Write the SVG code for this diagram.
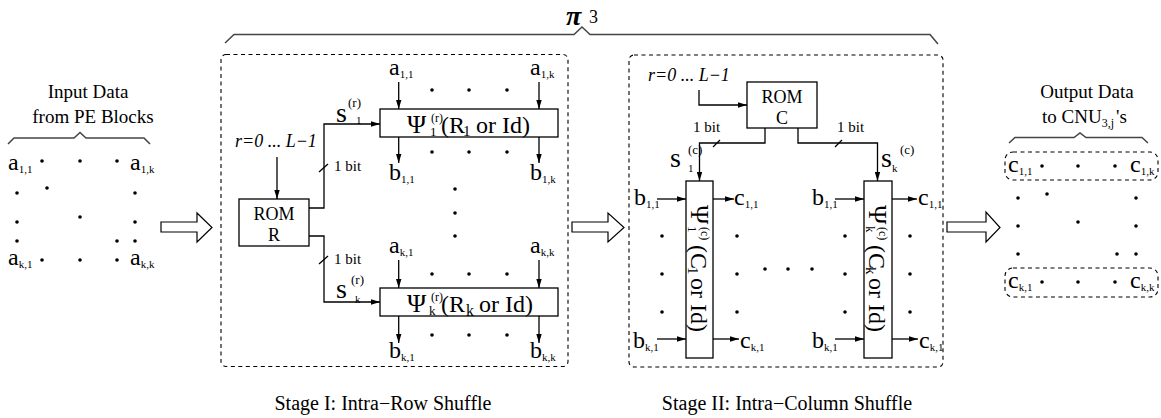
<svg xmlns="http://www.w3.org/2000/svg" width="1161" height="418" viewBox="0 0 1161 418">
<style>
.t{font-family:"Liberation Serif","Times New Roman",serif;fill:#000}
.lbl{font-size:19px}
.stg{font-size:20px}
.m{font-size:24px}
.sb{font-size:11px}
.sup{font-size:13px}
.bit{font-size:15px}
.it{font-style:italic;font-size:18px}
.rom{font-size:18px}
.big{font-size:24px}
.s{font-size:28px}
.ln{stroke:#000;stroke-width:1.3;fill:none}
.br{stroke:#444;stroke-width:1.5;fill:none}
.dash{stroke:#000;stroke-width:1.1;stroke-dasharray:4 3.5;fill:none}
.box{stroke:#000;stroke-width:1.3;fill:#fff}
.fat{stroke:#000;stroke-width:1.2;fill:#fff}
.dot{fill:#000}
</style>
<defs>
<marker id="ah" viewBox="0 0 10 6" refX="10" refY="3" markerWidth="9" markerHeight="6" markerUnits="userSpaceOnUse" orient="auto"><path d="M0,0 L10,3 L0,6 z" fill="#000"/></marker>
</defs>

<!-- pi_3 overall brace -->
<g id="pi3">
<polyline class="br" points="225,43 234,34.5 574,34.5 582,27 590,34.5 930,34.5 938,44"/>
<text class="t" x="566" y="25" font-size="28" font-style="italic" font-weight="bold">π</text>
<text class="t" x="589" y="23" font-size="18">3</text>
</g>

<!-- Input data -->
<g id="input-data">
<text class="t lbl" x="88" y="98" text-anchor="middle">Input Data</text>
<text class="t lbl" x="93" y="123" text-anchor="middle">from PE Blocks</text>
<polyline class="br" points="8,144 14,138 74,138 80,132.5 86,138 144,138 150,144"/>
<text class="t m" x="8" y="170">a<tspan class="sb" dy="3">1,1</tspan></text>
<text class="t m" x="130" y="170">a<tspan class="sb" dy="3">1,k</tspan></text>
<text class="t m" x="8" y="265">a<tspan class="sb" dy="3">k,1</tspan></text>
<text class="t m" x="130" y="265">a<tspan class="sb" dy="3">k,k</tspan></text>
<g class="dot">
<circle cx="42" cy="161" r="1.8"/><circle cx="80" cy="161" r="1.8"/><circle cx="117" cy="161" r="1.8"/>
<circle cx="17" cy="193" r="1.8"/><circle cx="47" cy="188" r="1.8"/><circle cx="135" cy="193" r="1.8"/>
<circle cx="17" cy="222" r="1.8"/><circle cx="80" cy="217" r="1.8"/><circle cx="135" cy="222" r="1.8"/>
<circle cx="17" cy="241" r="1.8"/><circle cx="117" cy="241" r="1.8"/><circle cx="135" cy="241" r="1.8"/>
<circle cx="42" cy="260" r="1.8"/><circle cx="80" cy="260" r="1.8"/><circle cx="117" cy="260" r="1.8"/>
</g>
</g>

<!-- Stage I -->
<g id="stage1">
<rect class="dash" x="221" y="54.5" width="347" height="312" rx="5"/>
<text class="t stg" x="383" y="410" text-anchor="middle">Stage I: Intra−Row Shuffle</text>
<text class="t it" x="235" y="147">r=0 ... L−1</text>
<text class="t m" x="389" y="75">a<tspan class="sb" dy="3">1,1</tspan></text>
<text class="t m" x="530" y="75">a<tspan class="sb" dy="3">1,k</tspan></text>
<text class="t m" x="389" y="180">b<tspan class="sb" dy="3">1,1</tspan></text>
<text class="t m" x="530" y="180">b<tspan class="sb" dy="3">1,k</tspan></text>
<text class="t m" x="389" y="253">a<tspan class="sb" dy="3">k,1</tspan></text>
<text class="t m" x="530" y="253">a<tspan class="sb" dy="3">k,k</tspan></text>
<text class="t m" x="389" y="358">b<tspan class="sb" dy="3">k,1</tspan></text>
<text class="t m" x="530" y="358">b<tspan class="sb" dy="3">k,k</tspan></text>
<text class="t s" x="336" y="122">s</text>
<text class="t sup" x="348" y="107">(r)</text>
<text class="t sb" x="356" y="124">1</text>
<text class="t s" x="336" y="298">s</text>
<text class="t sup" x="351" y="284">(r)</text>
<text class="t sb" x="355" y="303">k</text>
<text class="t bit" x="334" y="171">1 bit</text>
<text class="t bit" x="334" y="264">1 bit</text>
<g class="dot">
<circle cx="432" cy="90" r="1.8"/><circle cx="469" cy="90" r="1.8"/><circle cx="507" cy="90" r="1.8"/>
<circle cx="432" cy="152" r="1.8"/><circle cx="469" cy="152" r="1.8"/><circle cx="507" cy="152" r="1.8"/>
<circle cx="455" cy="189" r="1.8"/><circle cx="455" cy="213" r="1.8"/><circle cx="455" cy="236" r="1.8"/>
<circle cx="432" cy="274" r="1.8"/><circle cx="469" cy="274" r="1.8"/><circle cx="507" cy="274" r="1.8"/>
<circle cx="432" cy="335" r="1.8"/><circle cx="469" cy="335" r="1.8"/><circle cx="507" cy="335" r="1.8"/>
</g>
</g>

<g id="rom-r">
<rect class="box" x="239" y="199" width="70" height="47"/>
<text class="t rom" x="274" y="220" text-anchor="middle">ROM</text>
<text class="t rom" x="274" y="241" text-anchor="middle">R</text>
</g>

<g id="psi-r1">
<rect class="box" x="380" y="109" width="178" height="28"/>
<text class="t big" y="133"><tspan x="407" font-size="26">Ψ</tspan><tspan x="430" y="136" font-size="13">1</tspan><tspan x="431" y="122" font-size="12">(r)</tspan><tspan x="441" y="133">(R</tspan><tspan x="463" y="136" font-size="15">1</tspan><tspan x="476" y="133">or Id)</tspan></text>
</g>

<g id="psi-rk">
<rect class="box" x="380" y="288" width="178" height="28"/>
<text class="t big" y="312"><tspan x="407" font-size="26">Ψ</tspan><tspan x="429" y="315" font-size="13">k</tspan><tspan x="431" y="301" font-size="12">(r)</tspan><tspan x="441" y="312">(R</tspan><tspan x="466" y="316" font-size="16">k</tspan><tspan x="479" y="312">or Id)</tspan></text>
</g>

<!-- Stage II -->
<g id="stage2">
<rect class="dash" x="629" y="55" width="314" height="312" rx="5"/>
<text class="t stg" x="787" y="410" text-anchor="middle">Stage II: Intra−Column Shuffle</text>
<text class="t it" x="648" y="81">r=0 ... L−1</text>
<text class="t bit" x="693" y="132">1 bit</text>
<text class="t bit" x="837" y="132">1 bit</text>
<text class="t s" x="670" y="167">s</text>
<text class="t sup" x="688" y="154">(c)</text>
<text class="t sb" x="688" y="172">1</text>
<text class="t s" x="881" y="167">s</text>
<text class="t sup" x="900" y="154">(c)</text>
<text class="t sb" x="892" y="172">k</text>
<text class="t m" x="634" y="205">b<tspan class="sb" dy="3">1,1</tspan></text>
<text class="t m" x="734" y="205">c<tspan class="sb" dy="3">1,1</tspan></text>
<text class="t m" x="812" y="205">b<tspan class="sb" dy="3">1,1</tspan></text>
<text class="t m" x="918" y="205">c<tspan class="sb" dy="3">1,1</tspan></text>
<text class="t m" x="633" y="348">b<tspan class="sb" dy="3">k,1</tspan></text>
<text class="t m" x="740" y="348">c<tspan class="sb" dy="3">k,1</tspan></text>
<text class="t m" x="812" y="348">b<tspan class="sb" dy="3">k,1</tspan></text>
<text class="t m" x="919" y="348">c<tspan class="sb" dy="3">k,1</tspan></text>
<g class="dot">
<circle cx="662" cy="236" r="1.8"/><circle cx="662" cy="274" r="1.8"/><circle cx="662" cy="312" r="1.8"/>
<circle cx="737" cy="236" r="1.8"/><circle cx="737" cy="274" r="1.8"/><circle cx="737" cy="312" r="1.8"/>
<circle cx="845" cy="236" r="1.8"/><circle cx="845" cy="274" r="1.8"/><circle cx="845" cy="312" r="1.8"/>
<circle cx="910" cy="236" r="1.8"/><circle cx="910" cy="274" r="1.8"/><circle cx="910" cy="312" r="1.8"/>
<circle cx="765" cy="269" r="1.8"/><circle cx="788" cy="269" r="1.8"/><circle cx="812" cy="269" r="1.8"/>
</g>
</g>

<g id="rom-c">
<rect class="box" x="747" y="82" width="70" height="46"/>
<text class="t rom" x="782" y="103" text-anchor="middle">ROM</text>
<text class="t rom" x="782" y="124" text-anchor="middle">C</text>
</g>

<g id="psi-c1">
<rect class="box" x="686" y="181" width="27" height="177"/>
<text class="t big" transform="translate(691,205) rotate(90)" y="0"><tspan x="0" font-size="26">Ψ</tspan><tspan x="21" y="3" font-size="13">1</tspan><tspan x="22" y="-10" font-size="12">(c)</tspan><tspan x="40" y="0">(C</tspan><tspan x="62" y="3" font-size="15">1</tspan><tspan x="73" y="0">or Id)</tspan></text>
</g>

<g id="psi-ck">
<rect class="box" x="864" y="181" width="28" height="177"/>
<text class="t big" transform="translate(869,205) rotate(90)" y="0"><tspan x="0" font-size="26">Ψ</tspan><tspan x="21" y="3" font-size="13">k</tspan><tspan x="22" y="-10" font-size="12">(c)</tspan><tspan x="40" y="0">(C</tspan><tspan x="62" y="3" font-size="15">k</tspan><tspan x="73" y="0">or Id)</tspan></text>
</g>

<!-- Output data -->
<g id="output-data">
<text class="t lbl" x="1087" y="98" text-anchor="middle">Output Data</text>
<text class="t lbl" x="1042" y="123">to CNU<tspan font-size="12" dy="4">3,j</tspan><tspan x="1116" dy="-4">'s</tspan></text>
<polyline class="br" points="1009,143 1015,137.5 1074,137.5 1080,133 1086,137.5 1142,137.5 1148,143"/>
<rect class="dash" x="1005" y="152" width="153" height="28" rx="8"/>
<rect class="dash" x="1005" y="268" width="153" height="29" rx="8"/>
<text class="t m" x="1008" y="172">c<tspan class="sb" dy="3">1,1</tspan></text>
<text class="t m" x="1130" y="172">c<tspan class="sb" dy="3">1,k</tspan></text>
<text class="t m" x="1008" y="288">c<tspan class="sb" dy="3">k,1</tspan></text>
<text class="t m" x="1130" y="288">c<tspan class="sb" dy="3">k,k</tspan></text>
<g class="dot">
<circle cx="1042" cy="166" r="1.8"/><circle cx="1078" cy="166" r="1.8"/><circle cx="1115" cy="166" r="1.8"/>
<circle cx="1018" cy="198" r="1.8"/><circle cx="1047" cy="194" r="1.8"/><circle cx="1136" cy="198" r="1.8"/>
<circle cx="1018" cy="226" r="1.8"/><circle cx="1078" cy="222" r="1.8"/><circle cx="1136" cy="226" r="1.8"/>
<circle cx="1018" cy="254" r="1.8"/><circle cx="1117" cy="254" r="1.8"/><circle cx="1136" cy="254" r="1.8"/>
<circle cx="1042" cy="282" r="1.8"/><circle cx="1078" cy="282" r="1.8"/><circle cx="1115" cy="282" r="1.8"/>
</g>
</g>

<!-- Connectors -->
<g id="connectors">
<polygon class="fat" points="161,222 197,222 197,213 212,227.5 197,242 197,232 161,232"/>
<polygon class="fat" points="572,222 608,222 608,213 624,227.5 608,242 608,232 572,232"/>
<polygon class="fat" points="947,222 986,222 986,212 1000,227.5 986,242 986,232 947,232"/>

<line class="ln" x1="277" y1="157" x2="277" y2="199" marker-end="url(#ah)"/>
<path class="ln" d="M309,208 H324 V124 H380" marker-end="url(#ah)"/>
<path class="ln" d="M309,236 H324 V302 H380" marker-end="url(#ah)"/>
<line class="ln" x1="319" y1="172" x2="328" y2="164"/>
<line class="ln" x1="319" y1="264" x2="328" y2="256"/>

<line class="ln" x1="398.7" y1="82" x2="398.7" y2="109" marker-end="url(#ah)"/>
<line class="ln" x1="539" y1="82" x2="539" y2="109" marker-end="url(#ah)"/>
<line class="ln" x1="398.7" y1="137" x2="398.7" y2="163" marker-end="url(#ah)"/>
<line class="ln" x1="539" y1="137" x2="539" y2="163" marker-end="url(#ah)"/>
<line class="ln" x1="398.7" y1="260" x2="398.7" y2="288" marker-end="url(#ah)"/>
<line class="ln" x1="539" y1="260" x2="539" y2="288" marker-end="url(#ah)"/>
<line class="ln" x1="398.7" y1="316" x2="398.7" y2="343" marker-end="url(#ah)"/>
<line class="ln" x1="539" y1="316" x2="539" y2="343" marker-end="url(#ah)"/>

<path class="ln" d="M699,90 V105 H747" marker-end="url(#ah)"/>
<path class="ln" d="M765,128 V143 H699.5 V181" marker-end="url(#ah)"/>
<path class="ln" d="M798,128 V143 H877.5 V181" marker-end="url(#ah)"/>
<line class="ln" x1="713" y1="147" x2="720" y2="140"/>
<line class="ln" x1="835" y1="147" x2="842" y2="140"/>

<line class="ln" x1="657" y1="199" x2="686" y2="199" marker-end="url(#ah)"/>
<line class="ln" x1="713" y1="199" x2="734" y2="199" marker-end="url(#ah)"/>
<line class="ln" x1="835" y1="199" x2="864" y2="199" marker-end="url(#ah)"/>
<line class="ln" x1="892" y1="199" x2="917" y2="199" marker-end="url(#ah)"/>
<line class="ln" x1="657" y1="339" x2="686" y2="339" marker-end="url(#ah)"/>
<line class="ln" x1="713" y1="339" x2="739" y2="339" marker-end="url(#ah)"/>
<line class="ln" x1="835" y1="339" x2="864" y2="339" marker-end="url(#ah)"/>
<line class="ln" x1="892" y1="339" x2="918" y2="339" marker-end="url(#ah)"/>
</g>
</svg>
